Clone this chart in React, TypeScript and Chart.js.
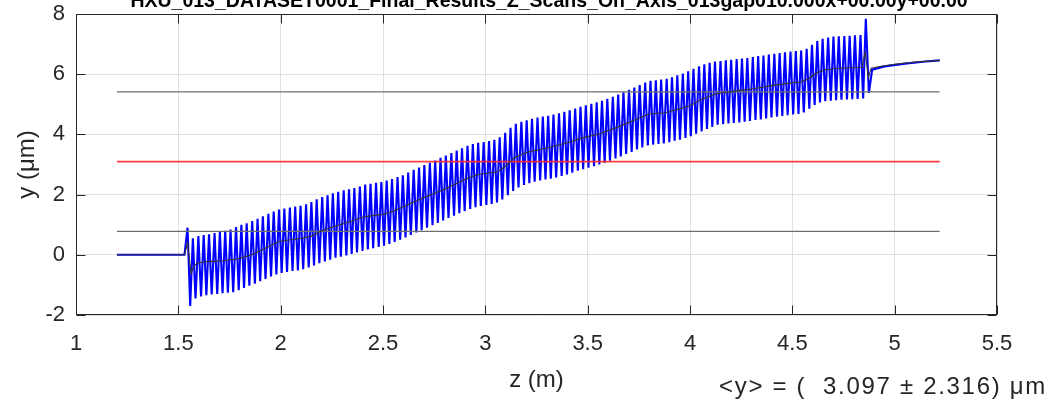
import React, { useEffect, useRef } from "react";
import { Chart, registerables } from "chart.js";

Chart.register(...registerables);

const titleText = "HXU_013_DATASET0001_Final_Results_Z_Scans_On_Axis_013gap010.000x+00.00y+00.00";
const xTitle = "z (m)";
const yTitle = "y (μm)";
const statsText = "<y> = (  3.097 ± 2.316) μm";

const xMin = 1;
const xMax = 5.5;
const xStep = 0.5;
const yMin = -2;
const yMax = 8;
const yStep = 2;

// blue trace: flat lead-in, oscillation peaks / troughs, tail after the end kick
const leadZ = [1.2, 1.53];
const leadY = [0, 0];

const peakZ = [
  1.545, 1.571, 1.598, 1.624, 1.650, 1.677, 1.703, 1.729, 1.755, 1.782,
  1.808, 1.834, 1.861, 1.887, 1.913, 1.940, 1.966, 1.992, 2.018, 2.045,
  2.071, 2.097, 2.124, 2.150, 2.176, 2.203, 2.229, 2.255, 2.281, 2.308,
  2.334, 2.360, 2.387, 2.413, 2.439, 2.466, 2.492, 2.518, 2.544, 2.571,
  2.597, 2.623, 2.650, 2.676, 2.702, 2.729, 2.755, 2.781, 2.807, 2.834,
  2.860, 2.886, 2.913, 2.939, 2.965, 2.992, 3.018, 3.044, 3.070, 3.097,
  3.123, 3.149, 3.176, 3.202, 3.228, 3.255, 3.281, 3.307, 3.333, 3.360,
  3.386, 3.412, 3.439, 3.465, 3.491, 3.518, 3.544, 3.570, 3.596, 3.623,
  3.649, 3.675, 3.702, 3.728, 3.754, 3.781, 3.807, 3.833, 3.859, 3.886,
  3.912, 3.938, 3.965, 3.991, 4.017, 4.044, 4.070, 4.096, 4.122, 4.149,
  4.175, 4.201, 4.228, 4.254, 4.280, 4.307, 4.333, 4.359, 4.385, 4.412,
  4.438, 4.464, 4.491, 4.517, 4.543, 4.570, 4.596, 4.622, 4.648, 4.675,
  4.701, 4.727, 4.754, 4.780, 4.806, 4.833, 4.859,
];
const peakY = [
  0.90, 0.55, 0.62, 0.66, 0.68, 0.72, 0.76, 0.80, 0.84, 0.92,
  1.00, 1.05, 1.12, 1.20, 1.28, 1.36, 1.44, 1.50, 1.54, 1.57,
  1.60, 1.63, 1.68, 1.75, 1.84, 1.92, 1.98, 2.04, 2.09, 2.14,
  2.18, 2.22, 2.27, 2.33, 2.36, 2.39, 2.42, 2.47, 2.52, 2.58,
  2.64, 2.73, 2.82, 2.90, 2.98, 3.06, 3.13, 3.22, 3.30, 3.38,
  3.46, 3.54, 3.62, 3.68, 3.72, 3.75, 3.78, 3.82, 3.90, 4.05,
  4.22, 4.35, 4.42, 4.47, 4.52, 4.56, 4.59, 4.62, 4.66, 4.70,
  4.75, 4.80, 4.86, 4.92, 4.97, 5.02, 5.07, 5.12, 5.18, 5.25,
  5.32, 5.40, 5.48, 5.56, 5.64, 5.72, 5.78, 5.80, 5.82, 5.85,
  5.90, 5.96, 6.02, 6.10, 6.18, 6.26, 6.33, 6.38, 6.42, 6.44,
  6.46, 6.48, 6.50, 6.52, 6.54, 6.57, 6.60, 6.62, 6.65, 6.68,
  6.70, 6.73, 6.75, 6.77, 6.79, 6.84, 6.98, 7.10, 7.18, 7.22,
  7.25, 7.26, 7.27, 7.28, 7.29, 7.30, 7.84,
];
const troughZ = [
  1.558, 1.584, 1.611, 1.637, 1.663, 1.690, 1.716, 1.742, 1.768, 1.795,
  1.821, 1.847, 1.874, 1.900, 1.926, 1.953, 1.979, 2.005, 2.031, 2.058,
  2.084, 2.110, 2.137, 2.163, 2.189, 2.216, 2.242, 2.268, 2.294, 2.321,
  2.347, 2.373, 2.400, 2.426, 2.452, 2.479, 2.505, 2.531, 2.557, 2.584,
  2.610, 2.636, 2.663, 2.689, 2.715, 2.742, 2.768, 2.794, 2.820, 2.847,
  2.873, 2.899, 2.926, 2.952, 2.978, 3.005, 3.031, 3.057, 3.083, 3.110,
  3.136, 3.162, 3.189, 3.215, 3.241, 3.268, 3.294, 3.320, 3.346, 3.373,
  3.399, 3.425, 3.452, 3.478, 3.504, 3.531, 3.557, 3.583, 3.609, 3.636,
  3.662, 3.688, 3.715, 3.741, 3.767, 3.794, 3.820, 3.846, 3.872, 3.899,
  3.925, 3.951, 3.978, 4.004, 4.030, 4.057, 4.083, 4.109, 4.135, 4.162,
  4.188, 4.214, 4.241, 4.267, 4.293, 4.320, 4.346, 4.372, 4.398, 4.425,
  4.451, 4.477, 4.504, 4.530, 4.556, 4.583, 4.609, 4.635, 4.661, 4.688,
  4.714, 4.740, 4.767, 4.793, 4.819, 4.846,
];
const troughY = [
  -1.70, -1.45, -1.38, -1.34, -1.32, -1.30, -1.28, -1.26, -1.24, -1.18,
  -1.10, -1.03, -0.96, -0.88, -0.80, -0.72, -0.65, -0.60, -0.57, -0.54,
  -0.52, -0.48, -0.42, -0.35, -0.28, -0.22, -0.16, -0.10, -0.06, -0.02,
  0.03, 0.08, 0.13, 0.18, 0.22, 0.26, 0.30, 0.36, 0.43, 0.50,
  0.58, 0.66, 0.74, 0.82, 0.90, 0.98, 1.06, 1.14, 1.22, 1.30,
  1.38, 1.45, 1.52, 1.58, 1.62, 1.66, 1.69, 1.74, 1.84, 1.98,
  2.12, 2.24, 2.32, 2.38, 2.43, 2.47, 2.50, 2.53, 2.57, 2.62,
  2.67, 2.73, 2.79, 2.84, 2.89, 2.94, 3.00, 3.06, 3.13, 3.20,
  3.27, 3.35, 3.42, 3.50, 3.57, 3.63, 3.66, 3.68, 3.70, 3.74,
  3.79, 3.82, 3.88, 3.94, 4.02, 4.10, 4.18, 4.25, 4.32, 4.34,
  4.36, 4.38, 4.40, 4.42, 4.45, 4.48, 4.50, 4.53, 4.56, 4.59,
  4.61, 4.64, 4.66, 4.68, 4.73, 4.85, 4.98, 5.06, 5.10, 5.12,
  5.14, 5.15, 5.16, 5.17, 5.18, 5.19,
];
const tailZ = [4.874, 4.89, 4.95, 5.05, 5.15, 5.22];
const tailY = [5.38, 6.15, 6.26, 6.35, 6.42, 6.46];

// running mean (dark line)
const meanZ = [
  1.2, 1.53, 1.545, 1.562, 1.575, 1.59, 1.62, 1.66, 1.72, 1.79,
  1.85, 1.92, 1.99, 2.05, 2.10, 2.15, 2.20, 2.28, 2.35, 2.40,
  2.45, 2.50, 2.55, 2.60, 2.70, 2.80, 2.90, 2.96, 3.00, 3.06,
  3.10, 3.14, 3.20, 3.30, 3.40, 3.49, 3.56, 3.65, 3.73, 3.80,
  3.88, 3.95, 4.00, 4.06, 4.13, 4.20, 4.30, 4.40, 4.46, 4.54,
  4.58, 4.62, 4.66, 4.72, 4.84, 4.856, 4.872, 4.885, 4.92, 5.00,
  5.10, 5.22,
];
const meanY = [
  0.00, 0.00, 0.40, -0.62, -0.40, -0.28, -0.24, -0.22, -0.20, -0.14,
  -0.02, 0.20, 0.44, 0.50, 0.54, 0.62, 0.80, 0.98, 1.12, 1.25,
  1.30, 1.34, 1.45, 1.60, 1.90, 2.18, 2.50, 2.66, 2.70, 2.76,
  2.95, 3.22, 3.40, 3.55, 3.72, 3.91, 4.02, 4.25, 4.48, 4.68,
  4.72, 4.85, 4.95, 5.18, 5.35, 5.42, 5.51, 5.62, 5.68, 5.74,
  5.85, 6.05, 6.15, 6.20, 6.22, 6.72, 5.90, 6.20, 6.25, 6.33,
  6.40, 6.46,
];

// average and ±1σ reference lines
const refZ = [1.2, 5.22];
const avgLine = [3.097, 3.097];
const upperLine = [5.413, 5.413];
const lowerLine = [0.781, 0.781];

const FONT = '"Liberation Sans", Arial, Helvetica, sans-serif';
const AXIS_COLOR = "#262626";

function pts(zs: number[], ys: number[]) {
  return zs.map((z, i) => ({ x: z, y: ys[i] }));
}

function bluePoints() {
  const out: { x: number; y: number }[] = pts(leadZ, leadY);
  for (let i = 0; i < peakZ.length; i++) {
    out.push({ x: peakZ[i], y: peakY[i] });
    if (i < troughZ.length) out.push({ x: troughZ[i], y: troughY[i] });
  }
  return out.concat(pts(tailZ, tailY));
}

const decorPlugin = {
  id: "decor",
  afterDatasetsDraw(chart: any) {
    const { ctx, chartArea: a, scales } = chart;
    ctx.save();
    ctx.strokeStyle = AXIS_COLOR;
    ctx.lineWidth = 1;
    const L = Math.round(a.left) + 0.5;
    const R = Math.round(a.right) - 0.5;
    const T = Math.round(a.top) + 0.5;
    const B = Math.round(a.bottom) - 0.5;
    ctx.strokeRect(L, T, R - L, B - T);
    const tl = 9;
    ctx.beginPath();
    scales.x.ticks.forEach((t: any) => {
      const px = Math.round(scales.x.getPixelForValue(t.value)) + 0.5;
      ctx.moveTo(px, B);
      ctx.lineTo(px, B - tl);
      ctx.moveTo(px, T);
      ctx.lineTo(px, T + tl);
    });
    scales.y.ticks.forEach((t: any) => {
      const py = Math.round(scales.y.getPixelForValue(t.value)) + 0.5;
      ctx.moveTo(L, py);
      ctx.lineTo(L + tl, py);
      ctx.moveTo(R, py);
      ctx.lineTo(R - tl, py);
    });
    ctx.stroke();

    ctx.fillStyle = "#000";
    ctx.font = `bold 19.5px ${FONT}`;
    ctx.textAlign = "center";
    ctx.textBaseline = "alphabetic";
    ctx.fillText(titleText, 549, 7);

    ctx.fillStyle = AXIS_COLOR;
    ctx.font = `24px ${FONT}`;
    ctx.textAlign = "right";
    (ctx as any).letterSpacing = "1.7px";
    ctx.fillText(statsText, 1047, 394);
    ctx.restore();
  },
};

export default function App() {
  const ref = useRef<HTMLCanvasElement | null>(null);

  useEffect(() => {
    if (!ref.current) return;
    const chart = new Chart(ref.current, {
      type: "line",
      data: {
        datasets: [
          {
            label: "mean",
            data: pts(meanZ, meanY),
            borderColor: "#333333",
            borderWidth: 1.1,
            pointRadius: 0,
            tension: 0,
            order: 0,
          },
          {
            label: "avg",
            data: pts(refZ, avgLine),
            borderColor: "rgba(255,40,40,0.9)",
            borderWidth: 1.6,
            pointRadius: 0,
            order: 1,
          },
          {
            label: "upper",
            data: pts(refZ, upperLine),
            borderColor: "#6e6e6e",
            borderWidth: 1.3,
            pointRadius: 0,
            order: 2,
          },
          {
            label: "lower",
            data: pts(refZ, lowerLine),
            borderColor: "#6e6e6e",
            borderWidth: 1.3,
            pointRadius: 0,
            order: 2,
          },
          {
            label: "y",
            data: bluePoints(),
            borderColor: "#0000ff",
            borderWidth: 2.1,
            pointRadius: 0,
            tension: 0,
            order: 3,
          },
        ],
      },
      options: {
        responsive: false,
        animation: false,
        events: [],
        layout: { padding: { top: 14, right: 59, left: 0, bottom: 0 } },
        plugins: { legend: { display: false }, tooltip: { enabled: false }, title: { display: false } },
        scales: {
          x: {
            type: "linear",
            min: xMin,
            max: xMax,
            border: { display: false },
            grid: { color: "#e0e0e0", drawTicks: false, lineWidth: 1 },
            ticks: {
              stepSize: xStep,
              padding: 16,
              color: AXIS_COLOR,
              font: { family: FONT, size: 22 },
              maxRotation: 0,
              callback: (v: any) => String(v),
            },
            title: {
              display: true,
              text: xTitle,
              color: AXIS_COLOR,
              font: { family: FONT, size: 24 },
              padding: { top: 0, bottom: 9 },
            },
            afterFit: (s: any) => {
              s.height = 89;
              s.paddingLeft = 0;
              s.paddingRight = 0;
            },
          },
          y: {
            type: "linear",
            min: yMin,
            max: yMax,
            border: { display: false },
            grid: { color: "#e0e0e0", drawTicks: false, lineWidth: 1 },
            ticks: {
              stepSize: yStep,
              padding: 11,
              color: AXIS_COLOR,
              font: { family: FONT, size: 22 },
              callback: (v: any) => String(v),
            },
            title: {
              display: true,
              text: yTitle,
              color: AXIS_COLOR,
              font: { family: FONT, size: 24 },
              padding: { top: 13, bottom: 0 },
            },
            afterFit: (s: any) => {
              s.width = 76;
              s.paddingTop = 0;
              s.paddingBottom = 0;
            },
          },
        },
      },
      plugins: [decorPlugin],
    } as any);
    return () => chart.destroy();
  }, []);

  return (
    <div style={{ position: "absolute", left: 0, top: 0, width: 1056, height: 404, background: "#fff" }}>
      <canvas ref={ref} width={1056} height={404} style={{ display: "block" }} />
    </div>
  );
}
